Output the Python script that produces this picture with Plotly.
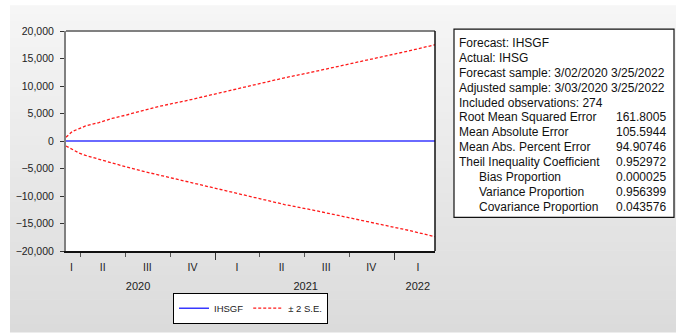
import plotly.graph_objects as go

# ---------------- data ----------------
dates = ["2020-03-02", "2020-03-15", "2020-03-29", "2020-04-11", "2020-05-08",
         "2020-06-04", "2020-07-02", "2020-08-05", "2020-09-08", "2020-11-05",
         "2021-01-06", "2021-03-15", "2021-05-22", "2021-07-19", "2021-09-19",
         "2021-11-26", "2022-02-02", "2022-03-25"]
forecast = [0, 0, 0, 0, 0, 0, 0, 0, 0, 0, 0, 0, 0, 0, 0, 0, 0, 0]
upper = [700, 1730, 2250, 2730, 3340, 4100, 4700, 5540, 6300, 7380,
         8690, 10180, 11490, 12560, 13750, 15120, 16430, 17500]
lower = [-900, -1600, -2200, -2620, -3350, -3990, -4700, -5480, -6190, -7450,
         -8750, -10240, -11550, -12560, -13750, -14940, -16300, -17400]

x_range = ["2020-03-02", "2022-03-25"]
year_ticks = ["2021-01-01", "2022-01-01"]
q_label_dates = ["2020-03-13", "2020-05-16", "2020-08-15", "2020-11-15", "2021-02-14",
                 "2021-05-16", "2021-08-15", "2021-11-15", "2022-02-18"]
q_labels = ["I", "II", "III", "IV", "I", "II", "III", "IV", "I"]
year_label_dates = ["2020-07-27", "2021-07-04", "2022-02-18"]
year_labels = ["2020", "2021", "2022"]
y_ticks = [-20000, -15000, -10000, -5000, 0, 5000, 10000, 15000, 20000]

stat_labels = ["Forecast: IHSGF", "Actual: IHSG",
               "Forecast sample: 3/02/2020 3/25/2022",
               "Adjusted sample: 3/03/2020 3/25/2022",
               "Included observations: 274",
               "Root Mean Squared Error", "Mean Absolute Error",
               "Mean Abs. Percent Error", "Theil Inequality Coefficient",
               "Bias Proportion", "Variance Proportion", "Covariance Proportion"]
stat_values = ["", "", "", "", "", "161.8005", "105.5944", "94.90746",
               "0.952972", "0.000025", "0.956399", "0.043576"]
stat_indent = [0, 0, 0, 0, 0, 0, 0, 0, 0, 1, 1, 1]

# ---------------- layout geometry (pixels) ----------------
W, H = 676, 336
L, R, T, B = 66, 435, 31, 254
FONT = "Liberation Sans, Arial, sans-serif"


def px(xp):
    return (xp - L) / (R - L)


def py(yp):
    return (B - yp) / (B - T)


fig = go.Figure()
fig.add_trace(go.Scatter(x=dates, y=forecast, mode="lines", name="IHSGF",
                         line=dict(color="#3838ff", width=1.6)))
fig.add_trace(go.Scatter(x=dates, y=upper, mode="lines", name="\u00b1 2 S.E.",
                         line=dict(color="#ff1a1a", width=1.3, dash="3px,2px")))
fig.add_trace(go.Scatter(x=dates, y=lower, mode="lines", name="\u00b1 2 S.E.",
                         showlegend=False,
                         line=dict(color="#ff1a1a", width=1.3, dash="3px,2px")))
# invisible carriers so the label axes (quarters / years) are drawn
fig.add_trace(go.Scatter(x=q_label_dates, y=[None] * len(q_label_dates), xaxis="x2",
                         mode="markers", showlegend=False, hoverinfo="skip"))
fig.add_trace(go.Scatter(x=year_label_dates, y=[None] * len(year_label_dates), xaxis="x3",
                         mode="markers", showlegend=False, hoverinfo="skip"))

shapes = []
# gradient background
nb = 40
top_c, bot_c = 246, 219
y0p, y1p = 5, H
for i in range(nb):
    a = y0p + (y1p - y0p) * i / nb
    b = y0p + (y1p - y0p) * (i + 1) / nb
    c = round(top_c + (bot_c - top_c) * (i + 0.5) / nb)
    shapes.append(dict(type="rect", xref="paper", yref="paper", layer="below",
                       x0=px(10), x1=px(W + 2), y0=py(a), y1=py(b + 0.6),
                       line=dict(width=0), fillcolor=f"rgb({c},{c},{c})"))
# plot area white
shapes.append(dict(type="rect", xref="paper", yref="paper", layer="below",
                   x0=0, x1=1, y0=0, y1=1, line=dict(width=0), fillcolor="white"))
# frame: top + left gray, right + bottom black
shapes.append(dict(type="line", xref="paper", yref="paper", x0=0, x1=1, y0=1, y1=1,
                   line=dict(color="#808080", width=2)))
shapes.append(dict(type="line", xref="paper", yref="paper", x0=1, x1=1, y0=0, y1=1,
                   line=dict(color="#111111", width=1.5)))
# stats box
shapes.append(dict(type="rect", xref="paper", yref="paper", layer="below",
                   x0=px(454), x1=px(674), y0=py(220), y1=py(29),
                   line=dict(color="#111111", width=1.2), fillcolor="white"))

annotations = []
line0, pitch = 43.3, 15.06
for i, (lab, val, ind) in enumerate(zip(stat_labels, stat_values, stat_indent)):
    yc = line0 + pitch * i
    annotations.append(dict(xref="paper", yref="paper", x=px(478.3 if ind else 458.3),
                            y=py(yc), text=lab, showarrow=False, xanchor="left",
                            yanchor="middle", xshift=-1,
                            font=dict(family=FONT, size=12, color="#111")))
    if val:
        annotations.append(dict(xref="paper", yref="paper", x=px(667), y=py(yc),
                                text=val, showarrow=False, xanchor="right",
                                yanchor="middle", xshift=1,
                                font=dict(family=FONT, size=12, color="#111")))

fig.update_layout(
    width=W, height=H,
    margin=dict(l=L, r=W - R, t=T, b=H - B, pad=0),
    paper_bgcolor="white", plot_bgcolor="white",
    font=dict(family=FONT, size=10.5, color="#222"),
    showlegend=True,
    legend=dict(orientation="h", x=0.5, xanchor="center", y=py(312), yanchor="middle",
                bgcolor="white", bordercolor="#000", borderwidth=1,
                font=dict(family=FONT, size=9.5, color="#222"), itemwidth=30,
                tracegroupgap=0, traceorder="normal"),
    shapes=shapes, annotations=annotations,
    xaxis=dict(type="date", range=x_range, showgrid=False, zeroline=False,
               showline=True, linecolor="#111", linewidth=1.5,
               tickvals=year_ticks, ticks="outside", ticklen=7, tickwidth=1,
               tickcolor="#333", showticklabels=False,
               minor=dict(dtick="M3", tick0="2020-01-01", ticks="outside",
                          ticklen=4, tickcolor="#555", tickwidth=1, showgrid=False)),
    xaxis2=dict(type="date", range=x_range, overlaying="x", anchor="y", side="bottom",
                showgrid=False, zeroline=False, showline=False, ticks="",
                tickvals=q_label_dates, ticktext=q_labels, ticklabelstandoff=8,
                tickfont=dict(family=FONT, size=10.5, color="#222")),
    xaxis3=dict(type="date", range=x_range, overlaying="x", anchor="y", side="bottom",
                showgrid=False, zeroline=False, showline=False, ticks="",
                tickvals=year_label_dates, ticktext=year_labels, ticklabelstandoff=27,
                tickfont=dict(family=FONT, size=11, color="#222")),
    yaxis=dict(range=[-20000, 20000], tickvals=y_ticks, tickformat=",",
               showgrid=False, zeroline=False, showline=True, linecolor="#808080",
               linewidth=2, ticks="outside", ticklen=4, tickcolor="#333",
               ticklabelstandoff=4,
               tickfont=dict(family=FONT, size=10.5, color="#222")),
)

fig.write_html("out.html", config={"displayModeBar": False},
               post_script="document.body.style.margin='0';document.body.style.padding='0';")
